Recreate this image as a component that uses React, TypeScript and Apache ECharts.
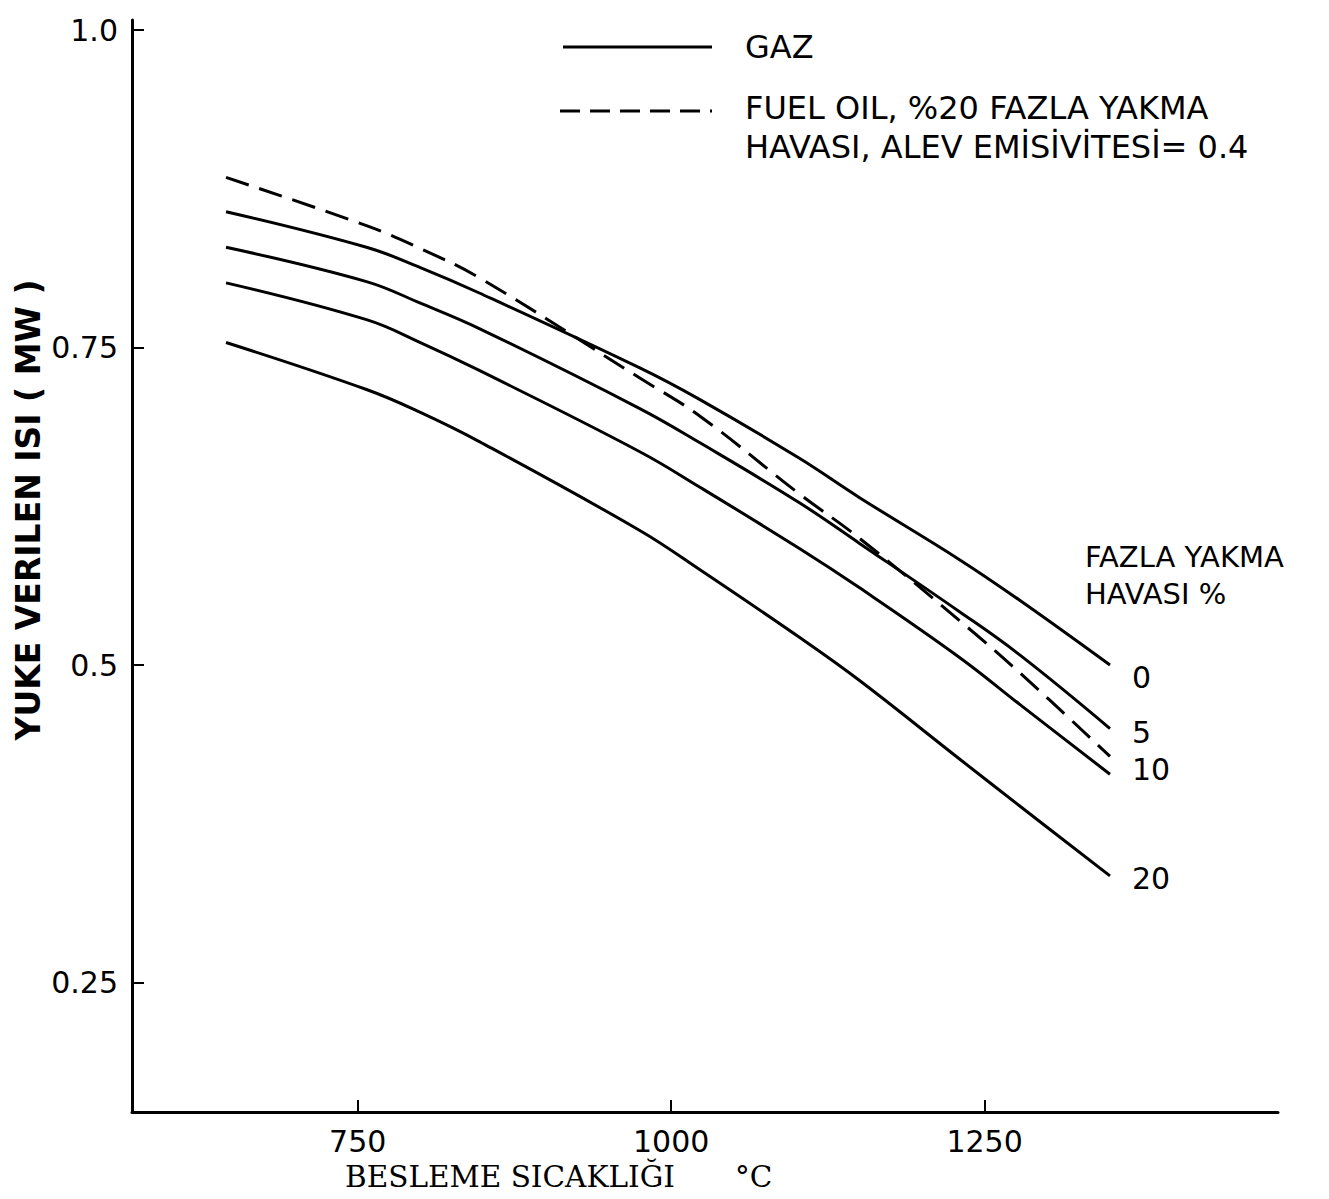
import React, { useEffect, useRef } from "react";
import * as echarts from "echarts";

// Feed temperature (°C) at which values were read
const temps = [645, 757, 800, 847, 975, 1023, 1102, 1150, 1230, 1278, 1350];

// Heat delivered to the load (MW), gas, by excess combustion air %
const gaz0 = [0.857, 0.829, 0.813, 0.793, 0.734, 0.709, 0.663, 0.632, 0.583, 0.551, 0.5];
const gaz5 = [0.829, 0.802, 0.785, 0.765, 0.702, 0.675, 0.628, 0.596, 0.542, 0.508, 0.45];
const gaz10 = [0.801, 0.772, 0.754, 0.732, 0.668, 0.64, 0.592, 0.561, 0.506, 0.469, 0.414];
const gaz20 = [0.754, 0.717, 0.699, 0.676, 0.606, 0.575, 0.522, 0.488, 0.426, 0.389, 0.334];
// Fuel oil, 20% excess air, flame emissivity 0.4
const fuelOil = [0.884, 0.846, 0.828, 0.805, 0.726, 0.696, 0.635, 0.6, 0.535, 0.494, 0.428];

const gasLabels = ["0", "5", "10", "20"];
const yTicks = [0.25, 0.5, 0.75, 1.0];
const yTickLabels = ["0.25", "0.5", "0.75", "1.0"];
const xTicks = [750, 1000, 1250];

const FONT = "DejaVu Sans";

export default function App() {
  const ref = useRef<HTMLDivElement>(null);

  useEffect(() => {
    if (!ref.current) return;
    const chart = echarts.init(ref.current, undefined, { renderer: "svg" });

    const pair = (vals: number[]) => temps.map((t, i) => [t, vals[i]]);
    const gasSets = [gaz0, gaz5, gaz10, gaz20];
    const labelOffsets = [
      [0, 12],
      [0, 4],
      [0, -5],
      [0, 3],
    ];

    const lineBase = {
      type: "line",
      symbol: "none",
      smooth: 0.4,
      silent: true,
    };

    const gasSeries = gasSets.map((vals, i) => ({
      ...lineBase,
      name: "GAZ",
      data: pair(vals),
      lineStyle: { color: "#000", width: 3 },
      endLabel: {
        show: true,
        formatter: () => gasLabels[i],
        distance: 22,
        offset: labelOffsets[i],
        color: "#000",
        fontSize: 30,
        fontFamily: FONT,
      },
    }));

    const oilSeries = {
      ...lineBase,
      name: "FUEL OIL, %20 FAZLA YAKMA HAVASI, ALEV EMİSİVİTESİ= 0.4",
      data: pair(fuelOil),
      lineStyle: { color: "#000", width: 3, type: [24, 11] },
    };

    const textStyle = (text: string, size: number, extra: any = {}) => ({
      text,
      fill: "#000",
      font: `${extra.weight || "normal"} ${size}px "${extra.family || FONT}"`,
      textAlign: extra.align || "left",
      textVerticalAlign: "middle",
    });

    chart.setOption({
      animation: false,
      backgroundColor: "#fff",
      grid: { left: 132, right: 51, top: 20, bottom: 87 },
      xAxis: {
        type: "value",
        min: 570,
        max: 1484,
        splitLine: { show: false },
        axisLine: { show: true, onZero: false, lineStyle: { color: "#000", width: 3 } },
        axisTick: {
          show: true,
          inside: true,
          length: 12,
          customValues: xTicks,
          lineStyle: { color: "#000", width: 2 },
        },
        axisLabel: {
          show: true,
          customValues: xTicks,
          margin: 14,
          color: "#000",
          fontSize: 30,
          fontFamily: FONT,
          formatter: (v: number) => String(v),
        },
      },
      yAxis: {
        type: "value",
        min: 0.148,
        max: 1.008,
        splitLine: { show: false },
        axisLine: { show: true, onZero: false, lineStyle: { color: "#000", width: 3 } },
        axisTick: {
          show: true,
          inside: true,
          length: 12,
          customValues: yTicks,
          lineStyle: { color: "#000", width: 2 },
        },
        axisLabel: {
          show: true,
          customValues: yTicks,
          margin: 14,
          color: "#000",
          fontSize: 30,
          fontFamily: FONT,
          formatter: (v: number) => {
            const idx = yTicks.findIndex((t) => Math.abs(t - v) < 1e-6);
            return idx >= 0 ? yTickLabels[idx] : "";
          },
        },
      },
      series: [...gasSeries, oilSeries],
      graphic: [
        // legend
        {
          type: "line",
          shape: { x1: 563, y1: 47, x2: 712, y2: 47 },
          style: { stroke: "#000", lineWidth: 3 },
        },
        { type: "text", x: 745, y: 47, style: textStyle("GAZ", 32) },
        {
          type: "line",
          shape: { x1: 560, y1: 111, x2: 712, y2: 111 },
          style: { stroke: "#000", lineWidth: 3, lineDash: [20, 10] },
        },
        { type: "text", x: 745, y: 108, style: textStyle("FUEL OIL, %20 FAZLA YAKMA", 32) },
        { type: "text", x: 745, y: 147, style: textStyle("HAVASI, ALEV EMİSİVİTESİ= 0.4", 32) },
        // curve family title
        { type: "text", x: 1085, y: 557, style: textStyle("FAZLA YAKMA", 29) },
        { type: "text", x: 1085, y: 594, style: textStyle("HAVASI %", 29) },
        // axis titles
        {
          type: "text",
          x: 345,
          y: 1177,
          style: textStyle("BESLEME SICAKLIĞI", 29.5, { family: "DejaVu Serif" }),
        },
        {
          type: "text",
          x: 735,
          y: 1177,
          style: textStyle("°C", 29.5, { family: "DejaVu Serif" }),
        },
        {
          type: "text",
          x: 28,
          y: 510,
          rotation: Math.PI / 2,
          style: textStyle("YUKE VERILEN ISI ( MW )", 33, { weight: "bold", align: "center" }),
        },
      ],
    });

    return () => chart.dispose();
  }, []);

  return (
    <div
      ref={ref}
      style={{ position: "absolute", left: 0, top: 0, width: 1329, height: 1199 }}
    />
  );
}
